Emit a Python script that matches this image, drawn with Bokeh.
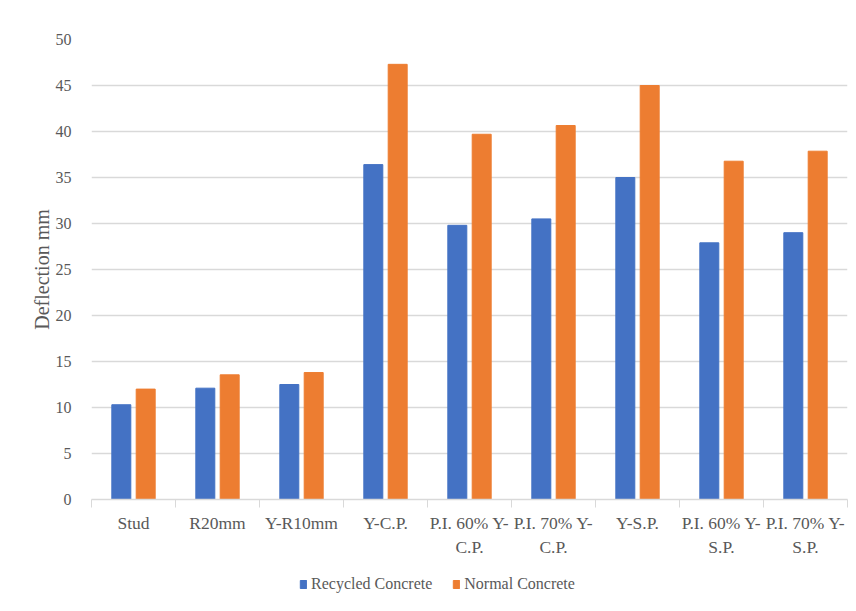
import numpy as np
from bokeh.plotting import figure
from bokeh.layouts import column
from bokeh.models import ColumnDataSource, FixedTicker, Legend, LegendItem
from bokeh.embed import file_html
from bokeh.resources import INLINE

categories = ["Stud", "R20mm", "Y-R10mm", "Y-C.P.", "P.I. 60% Y-\nC.P.", "P.I. 70% Y-\nC.P.",
              "Y-S.P.", "P.I. 60% Y-\nS.P.", "P.I. 70% Y-\nS.P."]
series_names = ["Recycled Concrete", "Normal Concrete"]
recycled = [10.3, 12.1, 12.5, 36.4, 29.8, 30.5, 35.0, 27.9, 29.0]
normal = [12.0, 13.55, 13.8, 47.3, 39.7, 40.65, 45.0, 36.77, 37.86]
y_ticks = [0, 5, 10, 15, 20, 25, 30, 35, 40, 45, 50]

idx = np.arange(len(categories))
src = ColumnDataSource(dict(xr=idx - 0.145, xn=idx + 0.145, rec=recycled, nor=normal))

FONT = "Liberation Serif"
GREY = "#595959"
BLUE = "#4472C4"
ORANGE = "#ED7D31"

p = figure(frame_width=756, frame_height=460, output_backend="svg", toolbar_location=None,
           x_range=(-0.5, len(categories) - 0.5), y_range=(0, 50),
           min_border_left=91, min_border_right=1, min_border_top=39, min_border_bottom=0)
p.outline_line_color = None

p.vbar(x="xr", top="rec", width=0.226, source=src, fill_color=BLUE, line_color=BLUE)
p.vbar(x="xn", top="nor", width=0.226, source=src, fill_color=ORANGE, line_color=ORANGE)

# y axis
p.yaxis.ticker = FixedTicker(ticks=y_ticks)
p.yaxis.axis_line_color = None
p.yaxis.major_tick_line_color = None
p.yaxis.minor_tick_line_color = None
p.yaxis.major_label_text_font = FONT
p.yaxis.major_label_text_font_size = "16px"
p.yaxis.major_label_text_color = GREY
p.yaxis.major_label_standoff = 14
p.yaxis.axis_label = "Deflection mm"
p.yaxis.axis_label_text_font = FONT
p.yaxis.axis_label_text_font_size = "20px"
p.yaxis.axis_label_text_font_style = "normal"
p.yaxis.axis_label_text_color = GREY
p.yaxis.axis_label_standoff = 0

# x axis
p.xaxis.ticker = FixedTicker(ticks=list(idx), minor_ticks=list(np.arange(len(categories) + 1) - 0.5))
p.xaxis.major_label_overrides = {int(i): c for i, c in zip(idx, categories)}
p.xaxis.major_tick_line_color = None
p.xaxis.minor_tick_line_color = "#d9d9d9"
p.xaxis.minor_tick_in = 0
p.xaxis.minor_tick_out = 8
p.xaxis.axis_line_color = "#d9d9d9"
p.xaxis.axis_line_width = 1.5
p.xaxis.major_label_text_font = FONT
p.xaxis.major_label_text_font_size = "17.5px"
p.xaxis.major_label_text_color = GREY
p.xaxis.major_label_standoff = 5

p.xgrid.grid_line_color = None
p.ygrid.grid_line_color = "#d9d9d9"
p.ygrid.grid_line_width = 1.3

# legend strip below the chart (its frame is aligned with the chart's frame)
leg = figure(width=848, height=50, output_backend="svg", toolbar_location=None,
             x_range=(0, 1), y_range=(0, 1), x_axis_location=None, y_axis_location=None,
             min_border=0)
leg.outline_line_color = None
leg.xgrid.grid_line_color = None
leg.ygrid.grid_line_color = None
lr1 = leg.vbar(x="xr", top="rec", width=0.226, source=src, fill_color=BLUE, line_color=BLUE, visible=False)
lr2 = leg.vbar(x="xn", top="nor", width=0.226, source=src, fill_color=ORANGE, line_color=ORANGE, visible=False)
legend = Legend(items=[LegendItem(label=series_names[0], renderers=[lr1], index=0),
                       LegendItem(label=series_names[1], renderers=[lr2], index=0)],
                orientation="horizontal", location=(208, 16),
                label_text_font=FONT, label_text_font_size="16px", label_text_color=GREY,
                glyph_width=8, glyph_height=10, label_standoff=4, spacing=20,
                inactive_fill_alpha=0,
                padding=0, margin=0, border_line_color=None, background_fill_alpha=0)
leg.add_layout(legend)

open("out.html", "w").write(file_html(column(p, leg, spacing=0), INLINE))
